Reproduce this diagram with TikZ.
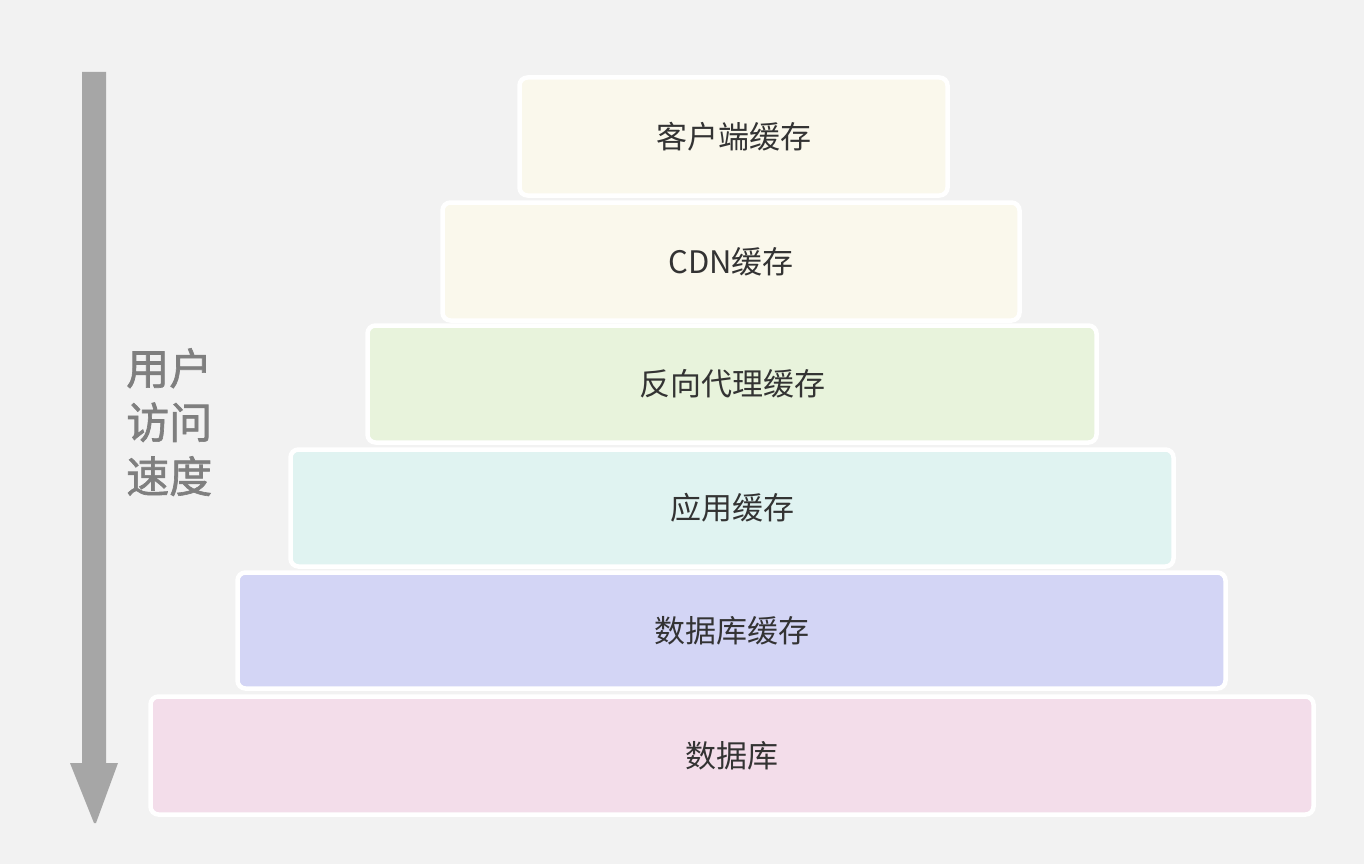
\documentclass[tikz,border=0pt]{standalone}
\usepackage{fontspec}
\newfontfamily\cjk{Noto Sans CJK SC}
\newfontfamily\cjkm[FakeBold=1.5]{Noto Sans CJK SC}
\definecolor{bg}{HTML}{F2F2F2}
\definecolor{arrowgray}{HTML}{A6A6A6}
\definecolor{labelgray}{HTML}{7F7F7F}
\definecolor{txt}{HTML}{333333}
\definecolor{cA}{HTML}{FAF8EC}
\definecolor{cB}{HTML}{FAF8EC}
\definecolor{cC}{HTML}{E8F3DC}
\definecolor{cD}{HTML}{E0F3F1}
\definecolor{cE}{HTML}{D3D5F5}
\definecolor{cF}{HTML}{F3DDEA}
\begin{document}
\begin{tikzpicture}[x=1pt,y=-1pt,
  layer/.style={draw=white,line width=4.5pt,rounded corners=8pt,
    font=\cjk\fontsize{31}{37}\selectfont,text=txt},
  sidelabel/.style={font=\cjkm\fontsize{43}{54}\selectfont,text=labelgray,align=left,anchor=north west,inner sep=0pt}]
\fill[bg] (0,0) rectangle (1364,864);
\useasboundingbox (0,0) rectangle (1364,864);
% layers
\draw[layer,fill=cA] (519.5,77.5) rectangle (947.5,195.5) node[midway] (l1) {客户端缓存};
\draw[layer,fill=cB] (442.5,202.5) rectangle (1019.5,320.5) node[midway] (l2) {CDN缓存};
\draw[layer,fill=cC] (367.5,325.5) rectangle (1096.5,442.5) node[midway] (l3) {反向代理缓存};
\draw[layer,fill=cD] (290.5,449.5) rectangle (1173.5,566.5) node[midway] (l4) {应用缓存};
\draw[layer,fill=cE] (237.5,572.5) rectangle (1225.5,688.5) node[midway] (l5) {数据库缓存};
\draw[layer,fill=cF] (150.5,696.5) rectangle (1313.5,814.5) node[midway] (l6) {数据库};
% arrow
\fill[arrowgray] (82,72) -- (106,72) -- (106,763) -- (118,763) -- (96,823) -- (94,823) -- (70,763) -- (82,763) -- cycle;
% side label
\node[sidelabel] (lab) at (126,348) {用户\\访问\\速度};
\end{tikzpicture}
\end{document}
